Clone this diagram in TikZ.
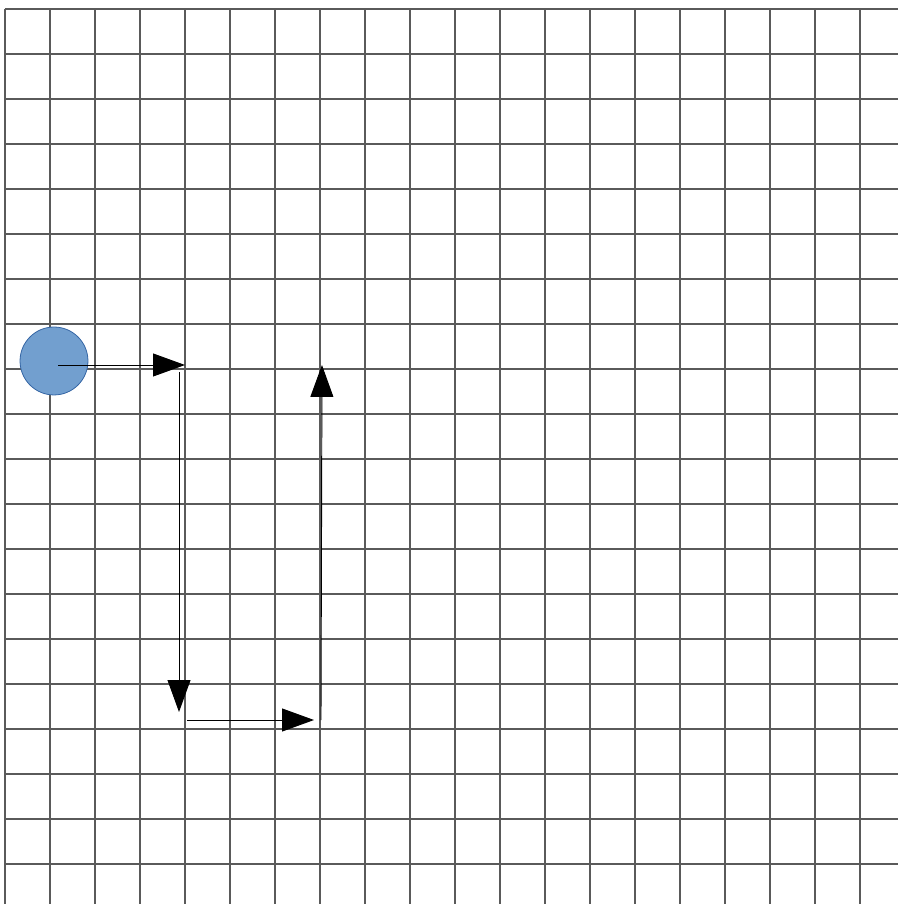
\documentclass[tikz,border=0pt]{standalone}
\usetikzlibrary{arrows.meta}
\definecolor{gridGrey}{HTML}{5A5A5A}
\definecolor{ballBlue}{HTML}{729FCF}
\definecolor{ballEdge}{HTML}{3465A4}
\tikzset{
  % grid cells are one unit each, rows counted downwards
  gridline/.style = {gridGrey, line width=0.9pt},
  moveline/.style = {black, line width=0.6pt, -{Triangle[length=7.1mm, width=5.1mm]}},
  ball/.style     = {circle, fill=ballBlue, draw=ballEdge, line width=0.5pt,
                     minimum size=15.1mm, inner sep=0pt},
}
\begin{document}
\begin{tikzpicture}[x=1cm,y=-1cm]
  \useasboundingbox (-0.111,-0.2) rectangle (19.844,19.889);
  % square grid
  \foreach \c in {0,...,19}
    \draw[gridline] (\c,0) -- (\c,19.889);
  \foreach \r in {0,...,19}
    \draw[gridline] (0,\r) -- (19.844,\r);
  % the ball
  \node[ball] (start) at (1.089,7.822) {};
  % corners of its path
  \coordinate (p0) at (1.178,7.911);
  \coordinate (p1) at (4.0,7.911);
  \coordinate (p2) at (3.867,8.067);
  \coordinate (p3) at (3.867,15.622);
  \coordinate (p4) at (4.044,15.8);
  \coordinate (p5) at (6.867,15.8);
  \coordinate (p6) at (7.022,15.8);
  \coordinate (p7) at (7.044,7.911);
  % moves
  \draw[moveline] (p0) -- (p1);
  \draw[moveline] (p2) -- (p3);
  \draw[moveline] (p4) -- (p5);
  \draw[moveline] (p6) -- (p7);
\end{tikzpicture}
\end{document}
